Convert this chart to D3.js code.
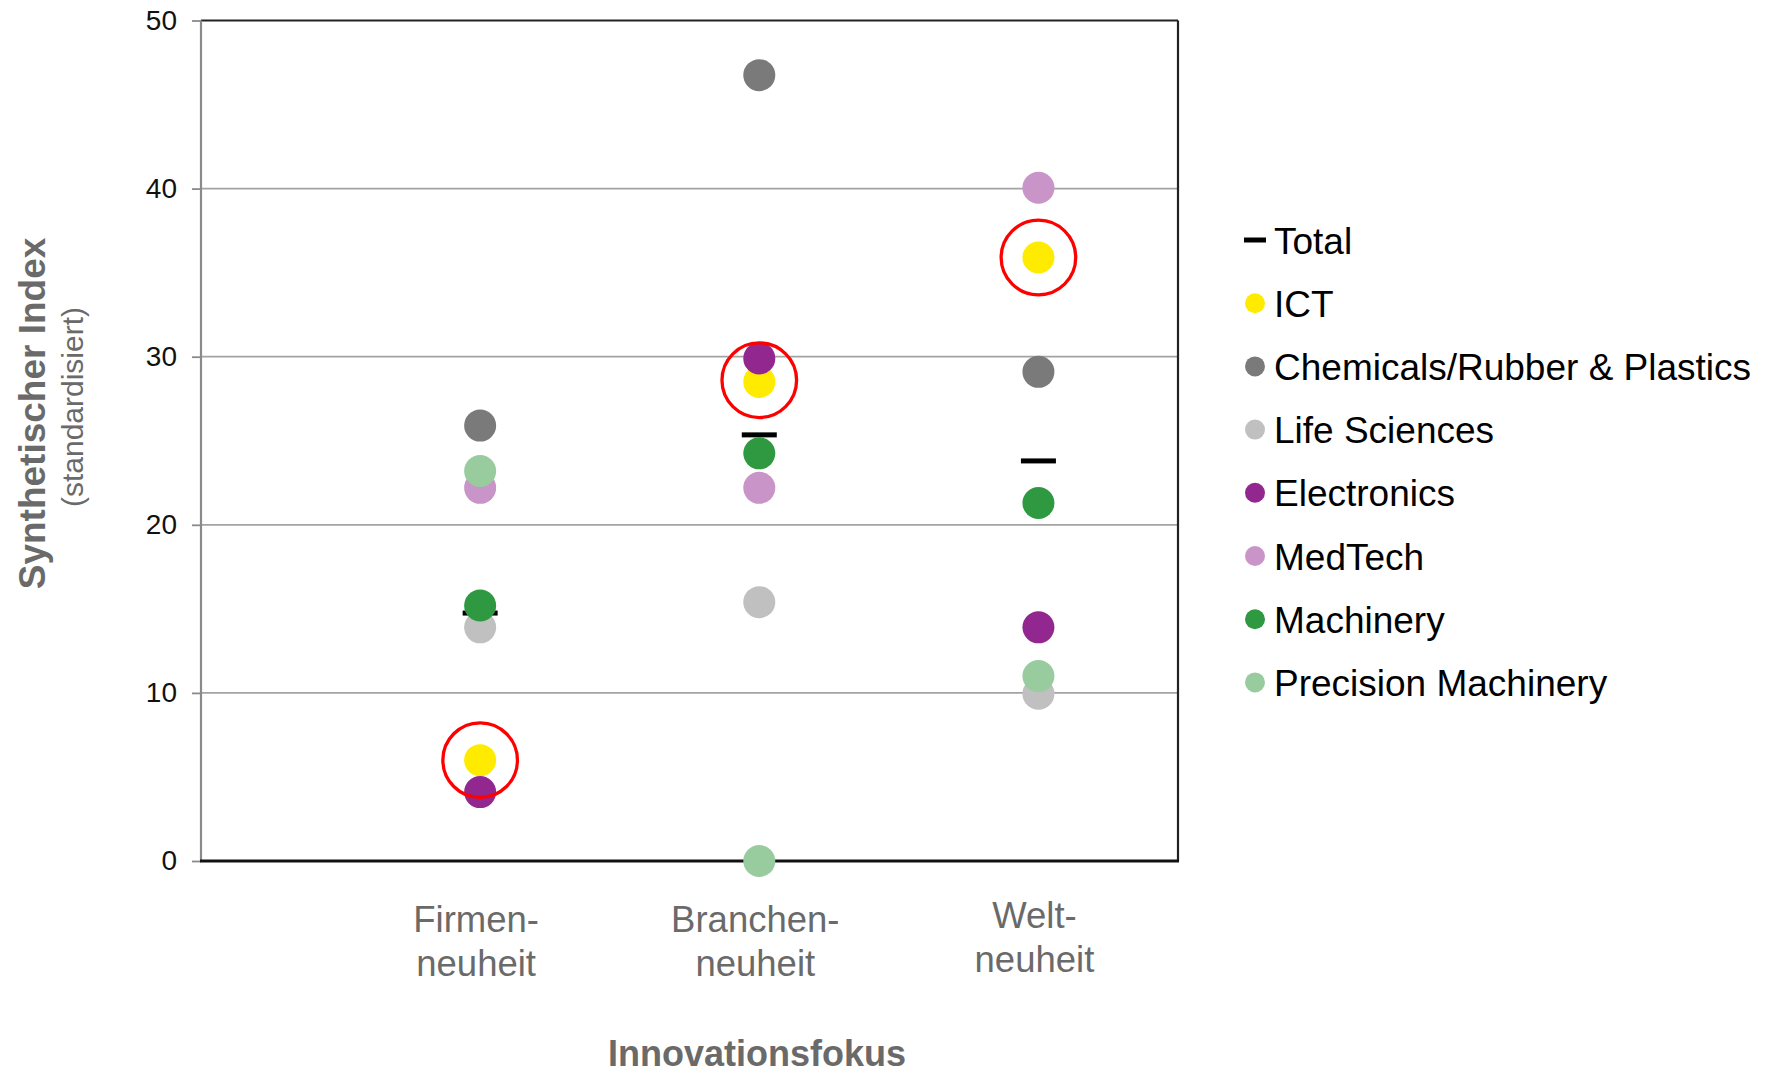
<!DOCTYPE html>
<html>
<head>
<meta charset="utf-8">
<script src="https://cdn.jsdelivr.net/npm/d3@7"></script>
<style>
  html, body { margin: 0; padding: 0; background: #ffffff; }
  svg { display: block; }
  text { font-family: "Liberation Sans", Arial, Helvetica, sans-serif; }
</style>
</head>
<body>
<svg id="chart" width="1781" height="1073"></svg>
<script>
// ---------- data ----------
const categories = [["Firmen-", "neuheit"], ["Branchen-", "neuheit"], ["Welt-", "neuheit"]];
const yTicks = [0, 10, 20, 30, 40, 50];
const totalValues = [14.75, 25.35, 23.8];
const seriesNames = ["ICT", "Chemicals/Rubber & Plastics", "Life Sciences", "Electronics", "MedTech", "Machinery", "Precision Machinery"];
const seriesColors = ["#ffeb00", "#7a7a7a", "#c0c0c0", "#92278f", "#c994c7", "#2e9940", "#98cc9f"];
const ictValues        = [6.0, 28.5, 35.9];
const chemicalsValues  = [25.9, 46.75, 29.1];
const lifeValues       = [13.9, 15.4, 9.95];
const electronicsValues= [4.1, 29.9, 13.9];
const medtechValues    = [22.2, 22.2, 40.05];
const machineryValues  = [15.2, 24.25, 21.3];
const precisionValues  = [23.2, 0.0, 11.0];
const seriesValues = [ictValues, chemicalsValues, lifeValues, electronicsValues, medtechValues, machineryValues, precisionValues];
const highlightValues = [6.0, 28.6, 35.9];   // red rings around ICT
const yTitle = "Synthetischer Index";
const ySubTitle = "(standardisiert)";
const xTitle = "Innovationsfokus";

// ---------- layout ----------
const svg = d3.select("#chart");
const pLeft = 201, pRight = 1178, pTop = 20.5, pBottom = 861;
const x = d3.scaleLinear().domain([0, categories.length + 0.5]).range([pLeft, pRight]);
const y = d3.scaleLinear().domain([0, 50]).range([pBottom, pTop]);

// grid lines
svg.append("g").selectAll("line")
  .data(yTicks.filter(t => t > 0 && t < 50))
  .join("line")
  .attr("x1", pLeft).attr("x2", pRight)
  .attr("y1", d => y(d)).attr("y2", d => y(d))
  .attr("stroke", "#a3a3a3").attr("stroke-width", 1.8);

// frame: top and right
svg.append("line").attr("x1", pLeft).attr("x2", pRight).attr("y1", pTop).attr("y2", pTop)
  .attr("stroke", "#222").attr("stroke-width", 1.8);
svg.append("line").attr("x1", pRight).attr("x2", pRight).attr("y1", pTop).attr("y2", pBottom)
  .attr("stroke", "#222").attr("stroke-width", 2.2);

// y axis
const yAxis = svg.append("g").attr("transform", `translate(${pLeft},0)`)
  .call(d3.axisLeft(y).tickValues(yTicks).tickSize(9).tickPadding(15).tickFormat(d3.format("d")));
yAxis.select(".domain").attr("stroke", "#8a8a8a").attr("stroke-width", 2.2).attr("d", `M0,${pTop}V${pBottom}`);
yAxis.selectAll(".tick line").attr("stroke", "#8a8a8a").attr("stroke-width", 1.8);
yAxis.selectAll(".tick text").attr("font-size", 28).attr("fill", "#111")
  .style("font-family", '"Liberation Sans", Arial, sans-serif');

// bottom axis line
svg.append("line").attr("x1", pLeft - 1).attr("x2", pRight + 1).attr("y1", pBottom).attr("y2", pBottom)
  .attr("stroke", "#111").attr("stroke-width", 3);

// x category labels
const xl = svg.append("g").selectAll("text").data(categories).join("text")
  .attr("text-anchor", "middle").attr("font-size", 36.5).attr("fill", "#6a6a6a")
  .attr("transform", (d, i) => `translate(${x(i + 1) - 4},${i === 2 ? 928 : 932})`);
xl.append("tspan").attr("x", 0).attr("y", 0).text(d => d[0]);
xl.append("tspan").attr("x", 0).attr("y", 43.5).text(d => d[1]);

// axis titles
svg.append("text").attr("transform", "translate(45,413.5) rotate(-90)")
  .attr("text-anchor", "middle").attr("font-size", 37).attr("font-weight", "bold")
  .attr("fill", "#6a6a6a").text(yTitle);
svg.append("text").attr("transform", "translate(83,407) rotate(-90)")
  .attr("text-anchor", "middle").attr("font-size", 30)
  .attr("fill", "#6a6a6a").text(ySubTitle);
svg.append("text").attr("x", 757).attr("y", 1066)
  .attr("text-anchor", "middle").attr("font-size", 36).attr("font-weight", "bold")
  .attr("fill", "#6a6a6a").text(xTitle);

// total dashes (under dots)
const dashW = 35, dashH = 5;
svg.append("g").selectAll("rect").data(totalValues).join("rect")
  .attr("x", (d, i) => x(i + 1) - dashW / 2)
  .attr("y", d => y(d) - dashH / 2)
  .attr("width", dashW).attr("height", dashH).attr("fill", "#000");

// dots, series in legend order
const dotR = 16;
seriesValues.forEach((vals, s) => {
  svg.append("g").selectAll("circle").data(vals).join("circle")
    .attr("cx", (d, i) => x(i + 1))
    .attr("cy", d => y(d))
    .attr("r", dotR)
    .attr("fill", seriesColors[s]);
});

// red highlight rings
svg.append("g").selectAll("circle").data(highlightValues).join("circle")
  .attr("cx", (d, i) => x(i + 1))
  .attr("cy", d => y(d))
  .attr("r", 37.3)
  .attr("fill", "none").attr("stroke", "#ff0000").attr("stroke-width", 3.3);

// legend
const legX = 1255, legY0 = 240, legStep = 63.2;
const leg = svg.append("g");
leg.append("rect").attr("x", legX - 11).attr("y", legY0 - 2.5).attr("width", 22).attr("height", 5).attr("fill", "#000");
leg.append("text").attr("x", 1274).attr("y", legY0 + 13.5).attr("font-size", 37).attr("fill", "#000").text("Total");
seriesNames.forEach((name, s) => {
  const cy = legY0 + legStep * (s + 1);
  leg.append("circle").attr("cx", legX).attr("cy", cy).attr("r", 10).attr("fill", seriesColors[s]);
  leg.append("text").attr("x", 1274).attr("y", cy + 13.5).attr("font-size", 37).attr("fill", "#000").text(name);
});
</script>
</body>
</html>
